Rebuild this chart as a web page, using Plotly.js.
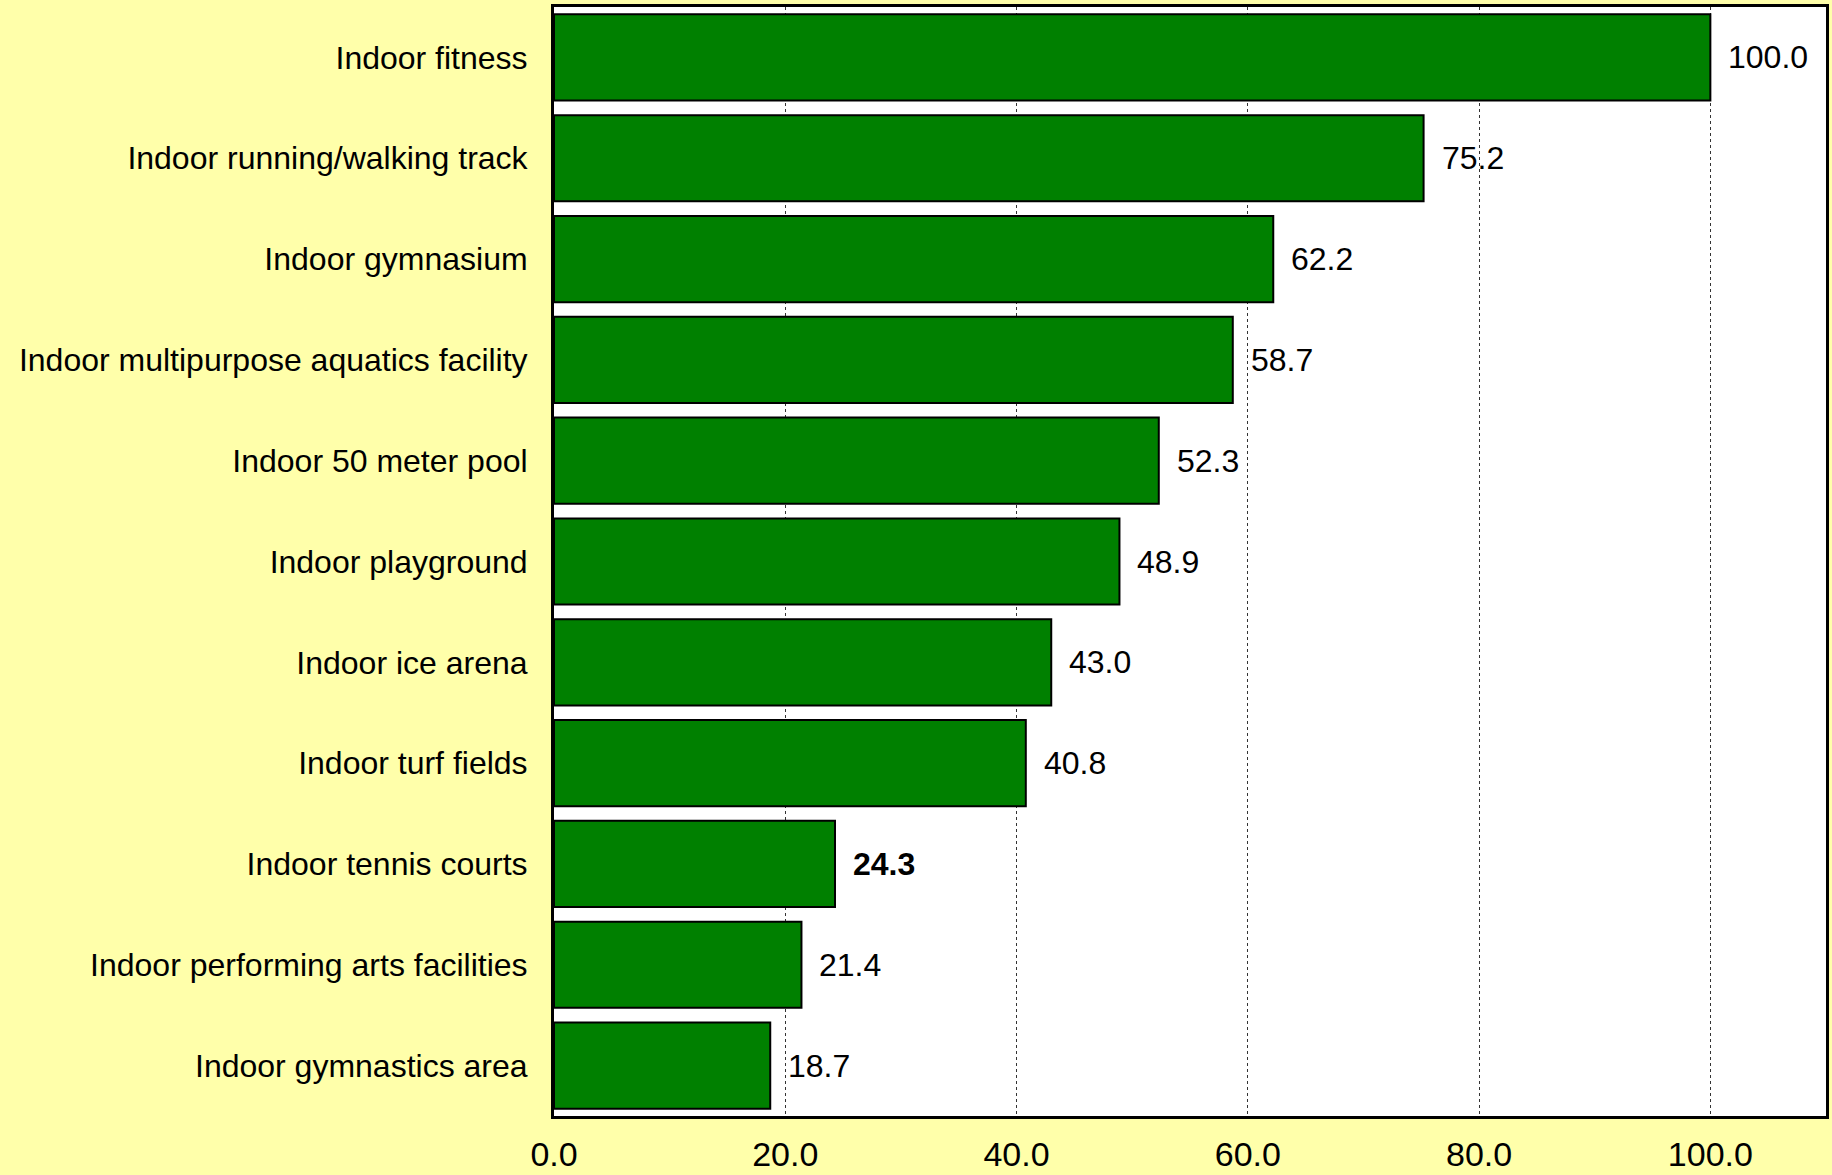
<!DOCTYPE html>
<html>
<head>
<meta charset="utf-8">
<script src="https://cdn.plot.ly/plotly-3.0.1.min.js"></script>
<style>
  html, body { margin: 0; padding: 0; background: #FFFFAA; }
  #chart { width: 1832px; height: 1175px; }
</style>
</head>
<body>
<div id="chart"></div>
<script>
const categories = [
  "Indoor fitness",
  "Indoor running/walking track",
  "Indoor gymnasium",
  "Indoor multipurpose aquatics facility",
  "Indoor 50 meter pool",
  "Indoor playground",
  "Indoor ice arena",
  "Indoor turf fields",
  "Indoor tennis courts",
  "Indoor performing arts facilities",
  "Indoor gymnastics area"
];
const values = [100.0, 75.2, 62.2, 58.7, 52.3, 48.9, 43.0, 40.8, 24.3, 21.4, 18.7];
const highlighted = ["Indoor tennis courts"];
const xTickValues = [0, 20, 40, 60, 80, 100];
const xTickLabels = ["0.0", "20.0", "40.0", "60.0", "80.0", "100.0"];

const FONT = '"Liberation Sans", Arial, sans-serif';

const trace = {
  type: 'bar',
  orientation: 'h',
  x: values,
  y: categories,
  marker: { color: '#008000', line: { color: '#000000', width: 2 } },
  hoverinfo: 'none'
};

const annotations = categories.map((c, i) => {
  const label = values[i].toFixed(1);
  const bold = highlighted.includes(c);
  return {
    x: values[i], y: c, xref: 'x', yref: 'y',
    text: bold ? '<b>' + label + '</b>' : label,
    showarrow: false, xanchor: 'left', yanchor: 'middle',
    xshift: 16,
    font: { family: FONT, size: 32, color: '#000000' }
  };
});

const layout = {
  width: 1832, height: 1175,
  paper_bgcolor: '#FFFFAA',
  plot_bgcolor: '#FFFFFF',
  margin: { l: 554, r: 6, t: 7, b: 59, pad: 0 },
  bargap: 0.145,
  showlegend: false,
  font: { family: FONT, color: '#000000' },
  xaxis: {
    range: [0, 110],
    tickvals: xTickValues,
    ticktext: xTickLabels,
    tickfont: { family: FONT, size: 34, color: '#000000' },
    showgrid: true,
    gridcolor: '#333333',
    gridwidth: 1,
    griddash: '3px,3px',
    zeroline: false,
    showline: true, linecolor: '#000000', linewidth: 3, mirror: true,
    ticks: '',
    ticklabelstandoff: 6,
    fixedrange: true
  },
  yaxis: {
    type: 'category',
    categoryorder: 'array',
    categoryarray: categories,
    range: [10.5, -0.5],
    tickfont: { family: FONT, size: 32, color: '#000000' },
    showgrid: false,
    zeroline: false,
    showline: true, linecolor: '#000000', linewidth: 3, mirror: true,
    ticks: '',
    ticklabelstandoff: 17,
    fixedrange: true
  },
  annotations: annotations
};

Plotly.newPlot('chart', [trace], layout, { displayModeBar: false, staticPlot: true });
</script>
</body>
</html>
